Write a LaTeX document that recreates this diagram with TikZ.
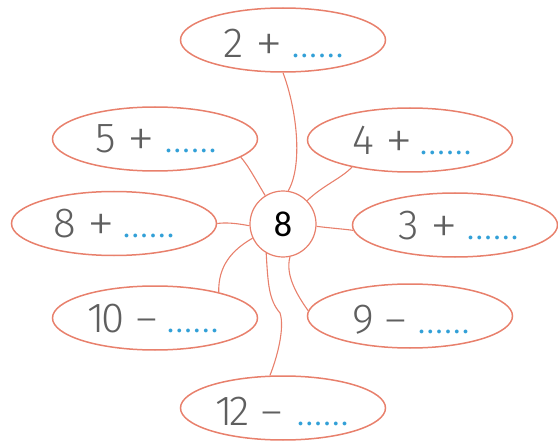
\documentclass[tikz,border=0pt]{standalone}
\usepackage{fontspec}
\usetikzlibrary{shapes.geometric}
\newfontfamily\thinfont{Fira Sans Light}
\newfontfamily\xlfont{Fira Sans ExtraLight}
\newfontfamily\dotfont{Fira Sans}[LetterSpace=18]
\newfontfamily\centfont{Carlito}
\definecolor{ring}{RGB}{232,128,108}
\definecolor{ink}{RGB}{95,95,95}
\definecolor{dotblue}{RGB}{50,160,215}
\newcommand\dotrow{\textcolor{dotblue}{\dotfont\bfseries\fontsize{21}{21}\selectfont......}}
\newcommand\plusop{{\xlfont\fontsize{56}{56}\selectfont\raisebox{-5pt}{+}}}
\newcommand\minusop{{\fontsize{40}{40}\selectfont –}}
\begin{document}
\begin{tikzpicture}[x=1pt,y=-1pt,
  bubble/.style={ellipse, draw=ring, line width=1.5pt, minimum width=205pt, minimum height=64pt, inner sep=0pt},
  hub/.style={circle, draw=ring, line width=1.2pt, minimum size=66pt, inner sep=0pt, font=\centfont\fontsize{36}{36}\selectfont},
  link/.style={draw=ring, line width=1.1pt},
  sum/.style={anchor=base west, inner sep=0pt, text=ink, font=\thinfont\fontsize{42}{42}\selectfont}]
\useasboundingbox (0,0) rectangle (558,444);
\node[bubble] (e2) at (283,40) {};
\node[bubble] (e5) at (155,139) {};
\node[bubble] (e4) at (410,140) {};
\node[bubble] (e8) at (114,223.5) {};
\node[bubble] (e3) at (455,225) {};
\node[bubble] (e10) at (155,318) {};
\node[bubble] (e9) at (410,316) {};
\node[bubble] (e12) at (283,408) {};
\node[hub] (c) at (283,224) {8};

\node[sum] (t2) at (223,58) {\makebox[119pt][l]{2 \plusop\hfill\dotrow}};
\node[sum] (t5) at (95,153) {\makebox[120pt][l]{5 \plusop\hfill\dotrow}};
\node[sum] (t4) at (352,155) {\makebox[118pt][l]{4 \plusop\hfill\dotrow}};
\node[sum] (t8) at (53,237) {\makebox[120pt][l]{8 \plusop\hfill\dotrow}};
\node[sum] (t3) at (398,240) {\makebox[119pt][l]{3 \plusop\hfill\dotrow}};
\node[sum] (t10) at (87,332) {\makebox[130pt][l]{1\kern-3pt 0 \minusop\hfill\dotrow}};
\node[sum] (t9) at (352,333) {\makebox[116pt][l]{9 \minusop\hfill\dotrow}};
\node[sum] (t12) at (215,425) {\makebox[132pt][l]{1\kern-3pt 2 \minusop\hfill\dotrow}};

\draw[link] (e2.south) .. controls (297,110) and (303,165) .. (c.81);
\draw[link] (e5.-12) .. controls (248,165) and (257,182) .. (c.122);
\draw[link] (e4.205) .. controls (342,178) and (322,186) .. (c.44);
\draw[link] (e8.east) .. controls (228,222) and (240,224) .. (c.183);
\draw[link] (c.-4) .. controls (330,228) and (343,229) .. (e3.183);
\draw[link] (c.205) .. controls (232,250) and (218,266) .. (e10.22);
\draw[link] (c.240) .. controls (268,285) and (269,300) .. (280,313) .. controls (285,328) and (277,358) .. (e12.112);
\draw[link] (c.-78) .. controls (285,275) and (297,295) .. (e9.177);
\end{tikzpicture}
\end{document}
